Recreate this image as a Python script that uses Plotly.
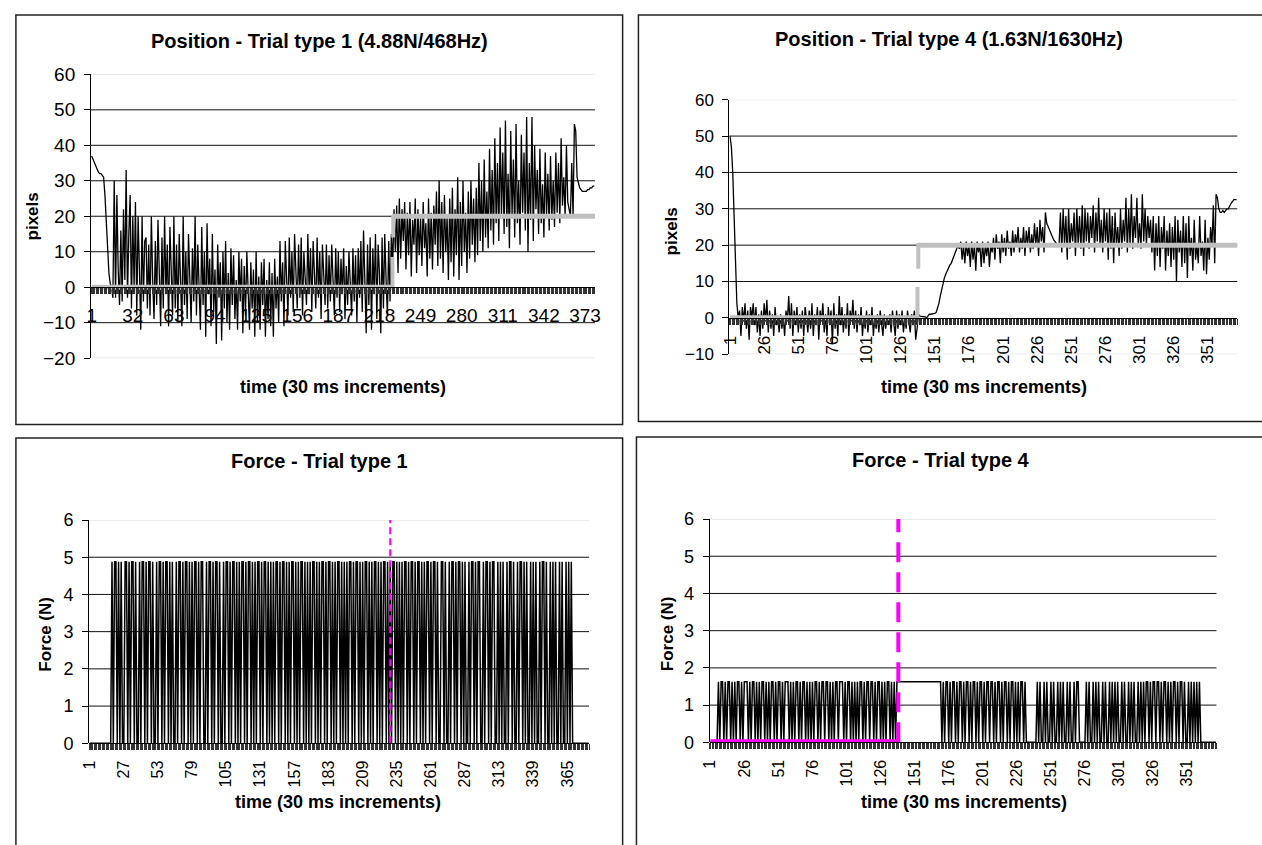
import plotly.graph_objects as go

W, H = 1262, 845

# ---------------- DATA ----------------
# Position, trial type 1 (pixels), one value per 30 ms sample
pos1 = [
    37, 36, 35, 34, 33, 32.5, 32, 32, 31.5, 31, 26, 18, 10, 4, 1, 0, -3,
    30, -3, 26, 5, -5, 16, -4, 22, 2, 33, -3, 15, 26, -6, 20, 0, 24, -8, 20, 5, -12, 20, -4, 13, 14, -6, 12,
    -8, 20, 2, -9, 13, -5, 19, 0, -11, 14, -6, 20, -2, 12, -11, 17, 3, -8, 20, -6, 12, -10, 15, 1, -11, 20,
    -5, 10, -9, 15, 4, -10, 11, -4, 20, -8, 12, -1, -12, 17, -5, 10, -14, 18, -2, 8, -11, 15, -7, 5, -16, 12,
    -3, 7, -15, 10,
    -6, 13, -10, 4, -12, 11, -5, 9, -9, 2, -12, 10, -4, 8, -13, 6, -8, 10, -2, -12, 7, -6, 5, -14, 10, -10,
    3, -12, 7, -5, 8, -14, 2, -9, 7, -11, 4, -14, 8, -6, 3, -10, 13, -4, 7, -11, 13, 0, -8, 14,
    -3, 10, -7, 15, 1, -6, 12, -3, 14, -8, 10, 2, -5, 15, -2, 11, -7, 13, 0, -6, 14, -3, 10, -9, 12, 3,
    -5, 12, -6, 9, -4, 12, 1, -8, 11, -3, 10, -7, 8, -2, 11, -9, 6, -5, 10, 2, -8, 11, -4, 9,
    -10, 11, -3, 13, -7, 16, 0, -13, 12, -5, 14, -12, 11, -2, 15, -9, 12, 4, -13, 14, -6, 15, 2, -8, 13,
    -4, 15,
    6, 22, 10, 23, 4, 25, 8, 22, 13, 24, 5, 21, 9, 24, 3, 19, 12, 25, 4, 22, 9, 20, 6, 24, 11, 18, 3, 25,
    8, 21, 5, 23, 12,
    27, 6, 30, 8, 24, 4, 26, 10, 20, 2, 25, 7, 28, 3, 22, 9, 31, 2, 24, 6, 30, 10, 21, 4, 27, 8, 30, 12,
    25, 7, 28, 9, 35, 13, 30, 10, 36, 14, 27, 11,
    39, 16, 33, 12, 42, 18, 35, 13, 45, 20, 38, 15, 47, 17, 32, 11, 44, 20, 36, 14, 46, 18, 30, 12, 43, 21,
    38, 16, 48, 10, 35, 19, 48, 13, 40, 22, 33, 15, 39, 18, 29, 14, 38, 20, 32, 16, 37, 19, 30, 17, 38, 21,
    35, 18, 42, 23, 31, 20, 40, 24, 22, 20,
    35, 20, 46, 44, 31, 29, 28, 27.5, 27, 27, 27, 27, 27.5, 27.5, 28, 28, 28.5, 28.5,
]

# Target position, trial type 1 (grey step): level before / after, step sample, gap in the riser
target1_levels = [0, 20]
target1_step = 227.8
target1_riser = [[0, 8.5], [14, 20.5]]

# Position, trial type 4 (pixels)
pos4 = [
    50, 47, 40, 28, 15, 4, 0,
    2, -5, 3, -1, 4, -3, 2, -6, 3, 0, 4, -2, 3, -4, 1, -5, 2, -3, 4, -1, 5, -4, 2, -3, 1, -5, 3, -2, 0, -4,
    1, -3, 0, -5, 2, -1, 6, -3, 4, -5, 2, -2, 3, -4, 1, -3, 2, -5, 3, 0, -4, 2, -3, 4, -5, 1, -2, 3, -6, 2,
    -1, 4, -4, 1, -5, 3, -2, 2, -7, 4, -3, 1, -5, 6, -2, 3, -4, 1, -3, 4, -5, 2, -1, 5, -3, 2, -4, 1, -2, 3,
    -5, 0, -3, 2, -4, 1, -2, 3, -5, 0, -3, 1, -4, 2, -1, -5, 1, -3, 0, -2, 1, -4, 2, -1, -5, 2, -3, 1, -2,
    2, -4, 0, -3, 2, -1, -4, 1, -2, 2, -6, -3, 1,
    0.5, 0.5, 0.5, 0.5, 0.3, 0, 0.5, 1, 1, 1, 1, 1.2, 1.5, 2.5,
    4, 6, 8, 10, 11, 12, 13, 14, 14.5, 15, 16, 17, 18, 19, 20, 19, 21, 16, 20, 15,
    21, 17, 20, 14, 21, 16, 20, 13, 21, 18, 20, 14, 21, 15, 20, 17, 21, 14, 20, 18, 22, 16, 23, 19, 21, 15,
    23, 18, 22, 17, 24, 19, 21, 17, 24, 18, 23, 20, 25, 18, 22, 19, 25, 17, 24, 20, 25, 18, 23, 19, 26, 20,
    25, 17, 27, 21, 25, 18, 29, 26, 25, 24,
    23, 22, 21.5, 21, 20.5, 20, 20,
    29, 18, 30, 20, 28, 16, 30, 19, 26, 21,
    29, 17, 30, 20, 28, 19, 31, 17, 30, 21,
    29, 19, 28, 22, 31, 18, 29, 21, 33, 20,
    27, 18, 30, 21, 29, 16, 30, 19, 28, 15,
    29, 20, 25, 17, 30, 19, 27, 21, 33, 18,
    30, 20, 34, 19, 28, 22, 33, 20, 26, 19,
    34, 21, 30, 20, 28, 22, 27, 18, 28, 13,
    26, 17, 28, 14, 25, 19, 28, 13, 24, 17,
    26, 14, 25, 16, 28, 10, 27, 18, 24, 14,
    28, 15, 26, 11, 28, 17, 22, 13, 27, 16,
    20, 15, 28, 17, 21, 13, 27, 12, 22, 16, 25,
    20, 31, 15, 34, 33, 30, 29, 29, 29.5, 29, 29.5, 30, 30, 31, 31.5, 32, 32.5, 32.5, 32.5,
]

target4_levels = [0, 20]
target4_step = 138.3
target4_riser = [[0, 8.5], [13.5, 20.5]]

# Force, trial type 1: on/off per sample ("1" = stimulus on), level in N
force1_level = 4.88
force1_on = (
    "00000000000000000"
    "1011010100" "1101011010" "0101101011" "0100101101" "0110101001"
    "0110101101" "0101101011" "0010110101" "1010010110" "1011010101"
    "1010110101" "0110101101" "0101011010" "1101010110" "1010110101"
    "0101101010" "1101011010" "1011010101" "0110101101" "0101101010"
    "1101010110" "1010110101" "0101101011" "0101101010" "1101011010"
    "0110100101" "1010110101" "0010110101" "1001011010" "1100101010"
    "0101101001" "0110101001" "0101001011" "0100101010" "0101001010"
    "1"
    "0000000000000"
)
force1_event = 230          # sample where the target changed (magenta marker)

# Force, trial type 4
force4_level = 1.63
force4_on = (
    "000000"
    "1011010110" "1010110101" "1101011010" "1011010101" "1010110101"
    "1101010110" "1011010101" "0110101101" "1010101101" "1101011010"
    "1010110101" "1011010110" "1010110101" "0"
    "111111111111111111111111111111111"
    "0101101011" "0101101011" "0101101011" "0101101101" "0110101101" "0110101011" "010"
    "0000000"
    "1010010100" "1010010101" "0010100101" "1"
    "00000"
    "1010010101" "0010100101" "0101001010" "0101010010" "1010110101"
    "1011010110" "1010110101" "1010010101" "0101"
    "000000000000"
)
force4_event = 139

# Tick labels
ticks_pos1 = list(range(1, 374, 31))
ticks_pos4 = list(range(1, 352, 25))
ticks_f1 = list(range(1, 366, 26))
ticks_f4 = list(range(1, 352, 25))

# ---------------- FIGURE ----------------
FONT = "Arial, 'Liberation Sans', sans-serif"
BLACK = "#000000"
GREY = "#c0c0c0"
MAGENTA = "#ff00ff"

force1 = [force1_level if c == "1" else 0 for c in force1_on]
force4 = [force4_level if c == "1" else 0 for c in force4_on]

def px(p):
    return p / W

def py(p):
    return 1 - p / H

# panel geometry in pixels: left, right, top(px of ymax), bottom(px of ymin)
panels = {
    "1": dict(l=83, r=593, t=66, b=357, yr=[-20, 60], dt=10),
    "2": dict(l=729, r=1243, t=92, b=353, yr=[-10, 60], dt=10),
    "3": dict(l=81, r=587, t=523, b=752, yr=[0, 6], dt=1),
    "4": dict(l=709, r=1222, t=522, b=751, yr=[0, 6], dt=1),
}

# data, tick values, tick angle, x tick font, y tick font, line width
series = {
    "1": (pos1, ticks_pos1, 0, 19, 19, 1.3),
    "2": (pos4, ticks_pos4, -90, 17, 17, 1.3),
    "3": (force1, ticks_f1, -90, 16, 18, 1.5),
    "4": (force4, ticks_f4, -90, 16, 18, 1.5),
}

fig = go.Figure()
layout = {}
shapes = []

for k, p in panels.items():
    ys, tv, ang, xfs, yfs, lw = series[k]
    n = len(ys)
    xname = "xaxis" if k == "1" else f"xaxis{k}"
    yname = "yaxis" if k == "1" else f"yaxis{k}"
    xref = "x" if k == "1" else f"x{k}"
    yref = "y" if k == "1" else f"y{k}"
    y0p, y1p = py(p["b"]), py(p["t"])
    ymin, ymax = p["yr"]
    zero_pos = y0p + (0 - ymin) / (ymax - ymin) * (y1p - y0p)
    layout[xname] = dict(
        domain=[px(p["l"]), px(p["r"])],
        range=[0.5, n + 0.5],
        anchor="free",
        position=zero_pos,
        showline=True, linecolor=BLACK, linewidth=1,
        showgrid=False, zeroline=False,
        tickmode="array", tickvals=tv, ticktext=[str(v) for v in tv],
        tickangle=ang, ticks="",
        ticklabelstandoff=11 if k == "1" else 10,
        tickfont=dict(family=FONT, size=xfs, color=BLACK),
        minor=dict(tickmode="linear", tick0=0.5, dtick=1, ticks="outside",
                   ticklen=6, tickwidth=1, tickcolor="#333333", showgrid=False),
        fixedrange=True,
    )
    layout[yname] = dict(
        domain=[y0p, y1p],
        range=[ymin, ymax],
        anchor=xref,
        showline=True, linecolor=BLACK, linewidth=1,
        showgrid=False, zeroline=False,
        tickmode="linear", tick0=ymin, dtick=p["dt"],
        ticks="outside", ticklen=6, tickcolor=BLACK,
        ticklabelstandoff=5,
        tickfont=dict(family=FONT, size=yfs, color=BLACK),
        fixedrange=True,
    )
    # horizontal gridlines
    v = ymin
    while v <= ymax + 1e-9:
        if v != 0:
            edge = (v == ymin) or (v == ymax)
            shapes.append(dict(type="line", xref=f"{xref} domain", yref=yref,
                               x0=0, x1=1, y0=v, y1=v, layer="below",
                               line=dict(color="#d9d9d9" if edge else "#111111", width=1)))
        v += p["dt"]
    # data line
    fig.add_trace(go.Scatter(x=list(range(1, n + 1)), y=ys, mode="lines",
                             line=dict(color=BLACK, width=lw), xaxis=xref, yaxis=yref,
                             hoverinfo="skip", showlegend=False))

# grey target steps
for xref, yref, lev, step, riser, n in [
    ("x", "y", target1_levels, target1_step, target1_riser, len(pos1)),
    ("x2", "y2", target4_levels, target4_step, target4_riser, len(pos4)),
]:
    fig.add_trace(go.Scatter(x=[1, step], y=[lev[0], lev[0]], mode="lines",
                             line=dict(color=GREY, width=5), xaxis=xref, yaxis=yref,
                             hoverinfo="skip", showlegend=False))
    fig.add_trace(go.Scatter(x=[step, step], y=riser[0], mode="lines",
                             line=dict(color=GREY, width=4), xaxis=xref, yaxis=yref,
                             hoverinfo="skip", showlegend=False))
    fig.add_trace(go.Scatter(x=[step + 0.6, step + 0.6], y=riser[1], mode="lines",
                             line=dict(color=GREY, width=4), xaxis=xref, yaxis=yref,
                             hoverinfo="skip", showlegend=False))
    fig.add_trace(go.Scatter(x=[step, n + 1], y=[lev[1], lev[1]], mode="lines",
                             line=dict(color=GREY, width=5), xaxis=xref, yaxis=yref,
                             hoverinfo="skip", showlegend=False, cliponaxis=False))

# magenta event markers
fig.add_trace(go.Scatter(x=[force1_event, force1_event], y=[0, 6], mode="lines",
                         line=dict(color=MAGENTA, width=2, dash="7px,4px"),
                         xaxis="x3", yaxis="y3", hoverinfo="skip", showlegend=False))
fig.add_trace(go.Scatter(x=[1, force4_event], y=[0, 0], mode="lines",
                         line=dict(color=MAGENTA, width=6),
                         xaxis="x4", yaxis="y4", hoverinfo="skip", showlegend=False,
                         cliponaxis=False))
fig.add_trace(go.Scatter(x=[force4_event, force4_event], y=[0, 6.1], mode="lines",
                         line=dict(color=MAGENTA, width=4, dash="20px,10px"),
                         xaxis="x4", yaxis="y4", hoverinfo="skip", showlegend=False,
                         cliponaxis=False))

# panel border boxes
for (l, t, r, b) in [(7, 5, 621, 425), (637, 5, 1270, 422), (7, 439, 621, 870), (635, 438, 1270, 870)]:
    shapes.append(dict(type="rect", xref="paper", yref="paper",
                       x0=px(l), x1=px(r), y0=py(b), y1=py(t),
                       line=dict(color="#222222", width=1.5), layer="above"))

# texts
annotations = []
def ann(text, x, y, size, angle=0):
    annotations.append(dict(text=text, x=px(x), y=py(y), xref="paper", yref="paper",
                            showarrow=False, textangle=angle, xanchor="center", yanchor="middle",
                            font=dict(family=FONT, size=size, color=BLACK)))

ann("<b>Position - Trial type 1 (4.88N/468Hz)</b>", 314, 32, 20)
ann("<b>Position - Trial type 4 (1.63N/1630Hz)</b>", 951, 30, 20)
ann("<b>Force - Trial type 1</b>", 314, 463, 20)
ann("<b>Force - Trial type 4</b>", 943, 461, 20)
ann("<b>time (30 ms increments)</b>", 338, 387, 18)
ann("<b>time (30 ms increments)</b>", 987, 387, 18)
ann("<b>time (30 ms increments)</b>", 333, 812, 18)
ann("<b>time (30 ms increments)</b>", 966, 812, 18)
ann("<b>pixels</b>", 24, 212, 17, -90)
ann("<b>pixels</b>", 670, 227, 17, -90)
ann("<b>Force (N)</b>", 37, 640, 17, -90)
ann("<b>Force (N)</b>", 666, 640, 17, -90)

fig.update_layout(
    width=W, height=H,
    margin=dict(l=0, r=0, t=0, b=0),
    paper_bgcolor="white", plot_bgcolor="rgba(0,0,0,0)",
    showlegend=False,
    shapes=shapes, annotations=annotations,
    **layout,
)

fig.write_html("out.html", config={"displayModeBar": False},
               post_script="document.body.style.margin='0';document.body.style.overflow='hidden';")
